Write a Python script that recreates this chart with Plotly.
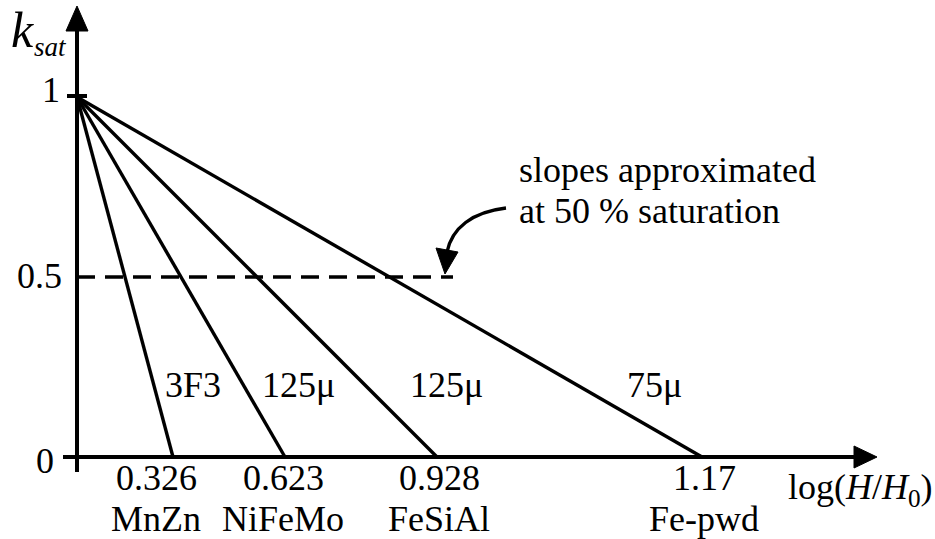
import plotly.graph_objects as go

# ---- data ----
materials = ["MnZn", "NiFeMo", "FeSiAl", "Fe-pwd"]
grades = ["3F3", "125μ", "125μ", "75μ"]
x_value_labels = ["0.326", "0.623", "0.928", "1.17"]
# schematic (not to scale) positions of the zero crossings as drawn in the figure
x_schematic = [0.96, 2.08, 3.60, 6.25]
k_start = 1.0
k_end = 0.0
k_half = 0.5
y_tick_vals = [0, 0.5, 1]
y_tick_text = ["0", "0.5", "1"]

# ---- geometry helpers ----
W, H = 935, 539
X0_PX, Y0_PX = 77, 457        # pixel position of origin
SX, SY = 100.0, 360.0         # pixels per data unit
xr = [(0 - X0_PX) / SX, (W - X0_PX) / SX]
yr = [(Y0_PX - H) / SY, (Y0_PX - 0) / SY]


def dx(px):
    return (px - X0_PX) / SX


def dy(py):
    return (Y0_PX - py) / SY


def pp(px, py):
    return px / W, 1 - py / H


FONT = "Liberation Serif"
BLACK = "#000000"

fig = go.Figure()

# characteristic lines
for xe in x_schematic:
    fig.add_trace(go.Scatter(x=[0, xe], y=[k_start, k_end], mode="lines",
                             line=dict(color=BLACK, width=3.4),
                             hoverinfo="skip"))

# 50 % dashed line
fig.add_trace(go.Scatter(x=[0, dx(453)], y=[k_half, k_half], mode="lines",
                         line=dict(color=BLACK, width=3.4, dash="18px,10px"),
                         hoverinfo="skip"))

shapes = []
# y axis
a, b = pp(X0_PX, 472)
c, d = pp(X0_PX, 28)
shapes.append(dict(type="line", xref="paper", yref="paper", x0=a, y0=b, x1=c, y1=d,
                   line=dict(color=BLACK, width=4)))
# x axis
a, b = pp(63, Y0_PX)
c, d = pp(857, Y0_PX)
shapes.append(dict(type="line", xref="paper", yref="paper", x0=a, y0=b, x1=c, y1=d,
                   line=dict(color=BLACK, width=4)))
# tick at 1
a, b = pp(67, 96)
c, d = pp(87, 96)
shapes.append(dict(type="line", xref="paper", yref="paper", x0=a, y0=b, x1=c, y1=d,
                   line=dict(color=BLACK, width=4)))


def tri(p1, p2, p3):
    pts = [pp(*p) for p in (p1, p2, p3)]
    path = "M {} {} L {} {} L {} {} Z".format(pts[0][0], pts[0][1], pts[1][0], pts[1][1],
                                               pts[2][0], pts[2][1])
    return dict(type="path", xref="paper", yref="paper", path=path,
                fillcolor=BLACK, line=dict(color=BLACK, width=1))


# arrow heads of axes
shapes.append(tri((X0_PX, 6), (66, 31), (88, 31)))
shapes.append(tri((877, Y0_PX), (854, 446), (854, 468)))

# curved arrow of the note
p = [pp(506, 208), pp(472, 212), pp(452, 228), pp(447, 252)]
shapes.append(dict(type="path", xref="paper", yref="paper",
                   path="M {} {} C {} {}, {} {}, {} {}".format(p[0][0], p[0][1], p[1][0], p[1][1],
                                                              p[2][0], p[2][1], p[3][0], p[3][1]),
                   line=dict(color=BLACK, width=3.4)))
shapes.append(tri((445, 274), (436, 248), (458, 252)))

annotations = []


def txt(x, y, text, size=36, xanchor="center", yanchor="middle", italic=False):
    annotations.append(dict(x=x, y=y, xref="x", yref="y", text=text, showarrow=False,
                            xanchor=xanchor, yanchor=yanchor,
                            font=dict(family=FONT, size=size, color=BLACK,
                                      style="italic" if italic else "normal")))


# x tick values and material names
name_center_px = [156, 283, 439, 704]
for xe, lab, name, ncx in zip(x_schematic, x_value_labels, materials, name_center_px):
    txt(dx(ncx), dy(478), lab)
    txt(dx(ncx), dy(519), name)

# y tick labels
ylab_right_px = {"0": 56, "0.5": 64, "1": 62}
ylab_center_py = {"0": 461, "0.5": 276, "1": 90}
for v, t in zip(y_tick_vals, y_tick_text):
    txt(dx(ylab_right_px[t]), dy(ylab_center_py[t]), t, xanchor="right")

# grade labels
grade_left_px = [163, 260, 408, 625]
for g, lx in zip(grades, grade_left_px):
    txt(dx(lx), dy(385), g, xanchor="left")

# axis titles
txt(dx(22), dy(30), "k", size=50, italic=True)
txt(dx(32), dy(47), "sat", size=27, xanchor="left", italic=True)
txt(dx(786), dy(489), "log(<i>H</i>/<i>H</i><sub>0</sub>)", xanchor="left")

# note
txt(dx(517), dy(170), "slopes approximated", xanchor="left")
txt(dx(517), dy(211), "at 50 % saturation", xanchor="left")

fig.update_layout(
    width=W, height=H,
    margin=dict(l=0, r=0, t=0, b=0),
    paper_bgcolor="white", plot_bgcolor="white",
    showlegend=False,
    xaxis=dict(range=xr, visible=False, fixedrange=True),
    yaxis=dict(range=yr, visible=False, fixedrange=True),
    shapes=shapes,
    annotations=annotations,
)

fig.write_html("out.html", config={"displayModeBar": False},
               post_script="document.body.style.margin='0';")
